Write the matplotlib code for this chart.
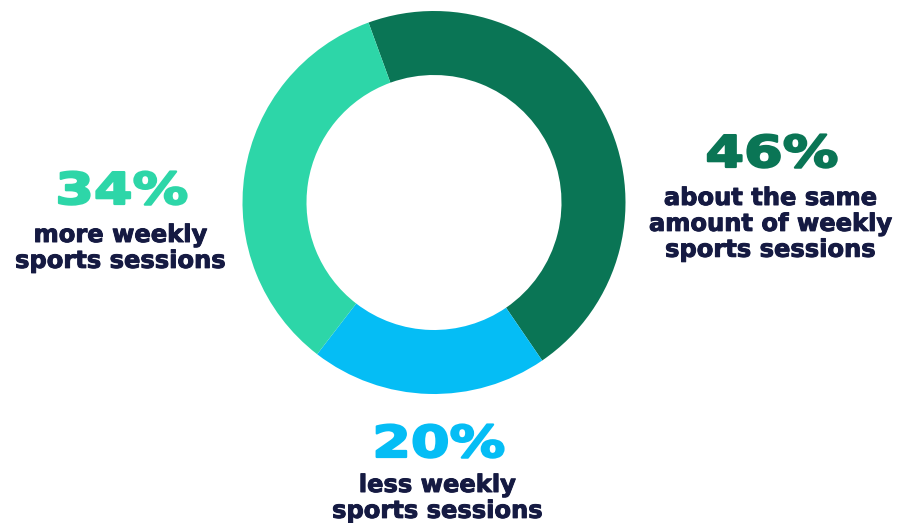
import matplotlib.pyplot as plt
from matplotlib import patheffects
from matplotlib.transforms import Affine2D

shares = [46, 20, 34]
pct_labels = ['46%', '20%', '34%']
descriptions = ['about the same\namount of weekly\nsports sessions',
                'less weekly\nsports sessions',
                'more weekly\nsports sessions']
colors = ['#0A7555', '#05BDF5', '#2DD6A8']
navy = '#151A42'


class HStretch(patheffects.AbstractPathEffect):
    """Widen text glyphs horizontally about their own centre, with an
    outline in the fill colour to make them heavier."""
    def __init__(self, sx, lw=0.0):
        super().__init__()
        self.sx = sx
        self.lw = lw

    def draw_path(self, renderer, gc, tpath, affine, rgbFace=None):
        ext = tpath.get_extents()
        cx = (ext.x0 + ext.x1) / 2
        t = Affine2D().translate(-cx, 0).scale(self.sx, 1).translate(cx, 0) + affine
        gc0 = renderer.new_gc()
        gc0.copy_properties(gc)
        if self.lw:
            gc0.set_linewidth(self.lw)
            gc0.set_foreground(rgbFace)
            gc0.set_joinstyle('round')
        renderer.draw_path(gc0, tpath, t, rgbFace)
        gc0.restore()


fig = plt.figure(figsize=(9.01, 5.23), dpi=100)
ax = fig.add_axes([0, 0, 1, 1])

# donut, first slice starts just left of the top and runs clockwise
ax.pie(shares, colors=colors, startangle=110, counterclock=False,
       center=(434, 320.5), radius=191.5, frame=True,
       wedgeprops=dict(width=64, linewidth=0))
ax.set_xlim(0, 901)
ax.set_ylim(0, 523)
ax.set_aspect('equal')
ax.axis('off')

# (x, baseline of the percentage, top of the text block), in pixels from top
spots = [(772, 167, 186), (439, 457, 473), (122, 204, 223)]
for (x, yp, yt), p, d, c in zip(spots, pct_labels, descriptions, colors):
    ax.text(x, 523 - yp, p, color=c, fontsize=31.5, fontweight='heavy',
            family='DejaVu Sans', ha='center', va='baseline',
            path_effects=[HStretch(1.27, lw=1.6)])
    ax.text(x - 2, 523 - yt, d, color=navy, fontsize=17.4, fontweight='bold',
            family='DejaVu Sans', ha='center', va='top', linespacing=1.1,
            path_effects=[patheffects.withStroke(linewidth=0.7, foreground=navy)])

fig.savefig('out.png', dpi=100)
